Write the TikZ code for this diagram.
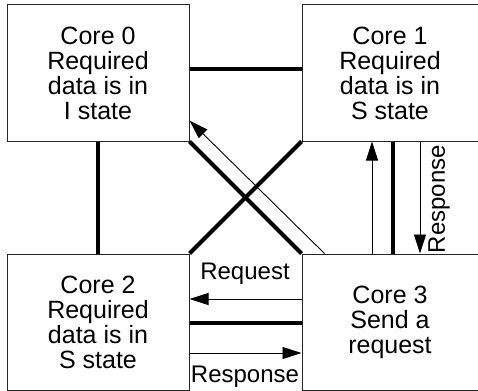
\documentclass[tikz,border=0pt]{standalone}
\usepackage{fontspec}
\setmainfont{Liberation Sans}
\usetikzlibrary{arrows.meta}
\begin{document}
\begin{tikzpicture}[x=1pt,y=-1pt,
  core/.style={draw=black!85, line width=1pt, fill=white, inner sep=0pt,
    align=center, font=\fontsize{25}{25}\selectfont},
  link/.style={line width=4pt},
  msg/.style={line width=0.9pt, -{Triangle[length=19pt,width=12pt]}},
  lbl/.style={font=\fontsize{24}{25}\selectfont, inner sep=0pt}]
\useasboundingbox (0,0) rectangle (478,390);
\node[core, minimum width=182pt, minimum height=136pt] (c0) at (98,73)
  {Core 0\\Required\\data is in\\I state};
\node[core, minimum width=176pt, minimum height=136pt] (c1) at (390,73)
  {Core 1\\Required\\data is in\\S state};
\node[core, minimum width=182pt, minimum height=136pt] (c2) at (98,322)
  {Core 2\\Required\\data is in\\S state};
\node[core, minimum width=176pt, minimum height=136pt] (c3) at (390,322)
  {Core 3\\Send a\\request};
% thick links
\draw[link] ([yshift=4pt]c0.east) -- ([yshift=4pt]c1.west);
\draw[link] (c0.south) -- (c2.north);
\draw[link] ([yshift=-1pt]c2.east) -- ([yshift=-1pt]c3.west);
\draw[link] ([xshift=3pt]c1.south) -- ([xshift=3pt]c3.north);
\draw[link] (c0.south east) -- (c3.north west);
\draw[link] (c1.south west) -- (c2.north east);
% messages
\draw[msg] ([xshift=23pt]c3.north west) -- ([yshift=21pt]c0.south east);
\draw[msg] ([xshift=-18pt]c3.north) -- ([xshift=-18pt]c1.south);
\draw[msg] ([xshift=30pt]c1.south) -- ([xshift=30pt]c3.north);
\draw[msg] ([yshift=23pt]c3.west) -- ([yshift=23pt]c2.east);
\draw[msg] ([yshift=-31pt]c2.east) -- ([yshift=-31pt]c3.west);
% labels
\node[lbl, rotate=90] (rl1) at (439,199) {Response};
\node[lbl] (rq) at (245,274) {Request};
\node[lbl] (rl2) at (245,377) {Response};
\end{tikzpicture}
\end{document}
